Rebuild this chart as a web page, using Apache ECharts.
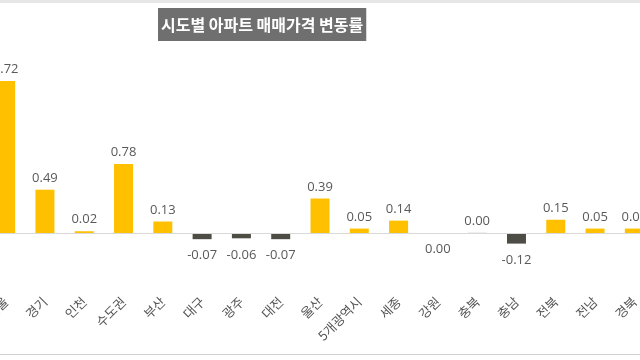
<!DOCTYPE html>
<html>
<head>
<meta charset="utf-8">
<script src="https://cdn.jsdelivr.net/npm/echarts@6/dist/echarts.min.js"></script>
<style>html,body{margin:0;padding:0;background:#fff;}#c{width:640px;height:360px;}</style>
</head>
<body>
<div id="c"></div>
<script>
const titleText = '시도별 아파트 매매가격 변동률';
const categories = ['서울','경기','인천','수도권','부산','대구','광주','대전','울산','5개광역시','세종','강원','충북','충남','전북','전남','경북'];
const values = [1.72,0.49,0.02,0.78,0.13,-0.07,-0.06,-0.07,0.39,0.05,0.14,-0.001,0.001,-0.12,0.15,0.05,0.05];

const POS = '#FFC000', NEG = '#4D4D46';
const fmt = v => (Math.abs(v) < 0.005 ? 0 : v).toFixed(2);
const seriesData = values.map((v, i) => ({
  value: v,
  itemStyle: { color: (v < 0 || i === 12) ? NEG : POS },
  label: v < 0 ? { position: 'bottom', distance: 10 } : { position: 'top', distance: 5 }
}));

const chart = echarts.init(document.getElementById('c'), null, { renderer: 'canvas' });
chart.setOption({
  backgroundColor: '#ffffff',
  animation: false,
  title: {
    text: titleText,
    left: 158, top: 8,
    backgroundColor: '#6F6F6F',
    padding: [9, 3, 8, 3],
    textStyle: { color: '#ffffff', fontSize: 16, fontWeight: 'bold', fontFamily: 'Noto Sans CJK KR' }
  },
  graphic: [
    { type: 'rect', shape: { x: 0, y: 0, width: 640, height: 3 }, style: { fill: '#e6e6e6' }, silent: true },
    { type: 'line', shape: { x1: 0, y1: 354.5, x2: 640, y2: 354.5 }, style: { stroke: '#d0d0d0', lineWidth: 1 }, silent: true }
  ],
  grid: { left: -14, width: 668, top: 56.2, bottom: 82.8, containLabel: false, outerBoundsMode: 'none' },
  xAxis: {
    type: 'category',
    data: categories,
    axisLine: { show: false, onZero: false },
    axisTick: { show: false },
    axisLabel: {
      rotate: 45, margin: 22, interval: 0,
      color: '#555555', fontSize: 13, fontFamily: 'Noto Sans CJK KR'
    }
  },
  yAxis: {
    type: 'value', min: -0.5, max: 2,
    show: false, splitLine: { show: false }
  },
  series: [{
    type: 'bar',
    data: seriesData,
    barWidth: 19,
    label: {
      show: true,
      formatter: p => fmt(p.value),
      color: '#595959', fontSize: 13, fontFamily: 'Open Sans'
    },
    markLine: {
      silent: true, symbol: 'none', label: { show: false },
      lineStyle: { color: '#D9D9D9', type: 'solid', width: 1 },
      data: [{ yAxis: 0 }]
    }
  }]
});
</script>
</body>
</html>
